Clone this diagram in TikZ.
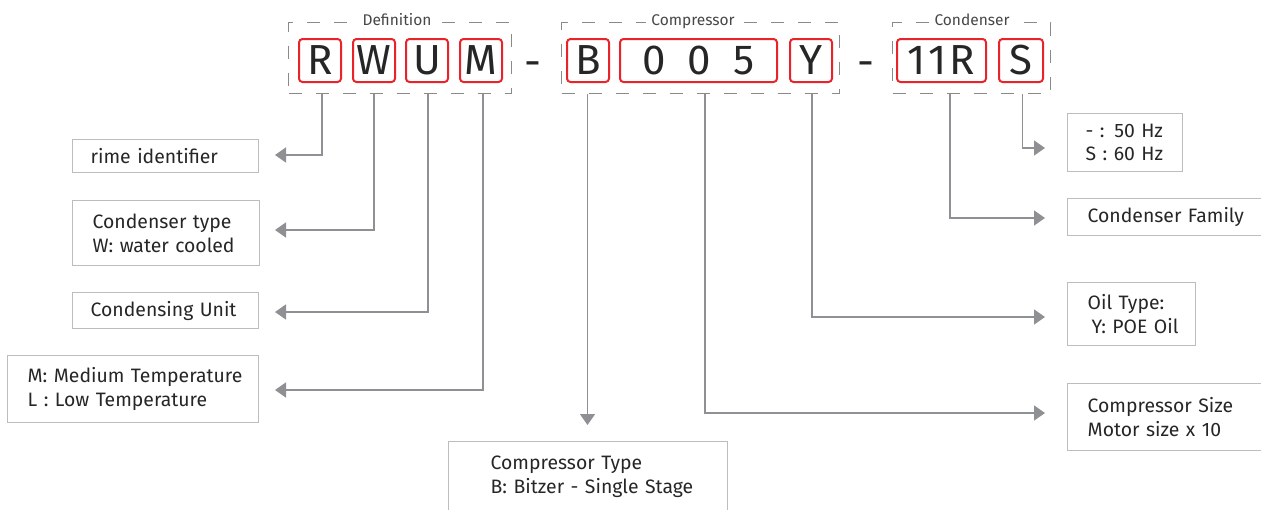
\documentclass[tikz,border=0pt]{standalone}
\usepackage{fontspec}
\setmainfont{Fira Sans}
\usetikzlibrary{arrows.meta,calc}
\definecolor{codered}{HTML}{E8232A}
\definecolor{conngray}{HTML}{8E9094}
\definecolor{boxgray}{HTML}{BDBDBD}
\definecolor{txt}{HTML}{262626}
\definecolor{dashgray}{HTML}{8A8A8A}
\hbadness=10000 \hfuzz=400pt
\begin{document}
\begin{tikzpicture}[x=1pt,y=-1pt,
  code/.style={draw=codered, line width=2pt, rounded corners=3.5pt, inner sep=0pt, text=txt,
    font=\fontsize{42}{42}\selectfont},
  bigdash/.style={anchor=base, inner sep=0pt, text=txt, font=\fontsize{42}{42}\selectfont},
  group/.style={draw=dashgray, line width=1.3pt, dash pattern=on 13pt off 14pt, anchor=north west, inner sep=0pt},
  glabel/.style={fill=white, anchor=base, inner xsep=5pt, inner ysep=2pt, text=txt!85, font=\fontsize{15.5}{15.5}\selectfont},
  info/.style={draw=boxgray, line width=1.3pt, anchor=north west, align=left, inner ysep=0pt, text=txt,
    font=\fontsize{19.4}{23.5}\selectfont},
  conn/.style={draw=conngray, line width=1.6pt, -{Triangle[length=11pt,width=15pt]}},
]
\useasboundingbox (0,0) rectangle (1261,509);

% dashed groups
\node[group, minimum width=223pt, minimum height=71pt] (def) at (288,22) {};
\node[group, minimum width=278pt, minimum height=71pt] (comp) at (561,22) {};
\node[group, minimum width=158pt, minimum height=71pt] (cond) at (892,22) {};
\node[glabel] (ldef) at (397,25.5) {Definition};
\node[glabel] (lcomp) at (693,25.5) {Compressor};
\node[glabel] (lcond) at (972,25.5) {Condenser};

% code letters
\node[code, minimum width=42pt, minimum height=43pt] (R) at (320,60.5) {R};
\node[code, minimum width=42pt, minimum height=43pt] (W) at (374,60.5) {W};
\node[code, minimum width=42pt, minimum height=43pt] (U) at (427,60.5) {U};
\node[code, minimum width=42pt, minimum height=43pt] (M) at (481,60.5) {M};
\node[bigdash] (d1) at (533,76) {-};
\node[code, minimum width=42pt, minimum height=43pt] (B) at (588,60.5) {B};
\node[code, minimum width=157pt, minimum height=43pt] (c005) at (698.5,60.5) {0\hskip 22pt 0\hskip 22pt 5};
\node[code, minimum width=42pt, minimum height=43pt] (Y) at (811,60.5) {Y};
\node[bigdash] (d2) at (866,76) {-};
\node[code, minimum width=89pt, minimum height=43pt] (c11r) at (941.5,60.5) {1\kern3pt 1\kern3pt R};
\node[code, minimum width=44pt, minimum height=43pt] (S) at (1021,60.5) {S};

% info boxes
\node[info, inner xsep=18pt, minimum width=186pt, minimum height=33pt, text width=150pt] (rime) at (72,139) {\mbox{rime identifier}};
\node[info, inner xsep=20pt, minimum width=187pt, minimum height=65pt, text width=147pt] (ctype) at (72,200) {\mbox{Condenser type}\\\mbox{W: water cooled}};
\node[info, inner xsep=18pt, minimum width=186pt, minimum height=36pt, text width=150pt] (cunit) at (72,292) {\mbox{Condensing Unit}};
\node[info, inner xsep=20pt, minimum width=251pt, minimum height=67pt, text width=211pt] (mtemp) at (7,355) {\mbox{M: Medium Temperature}\\\mbox{L : Low Temperature}};
\node[info, inner xsep=42pt, minimum width=279pt, minimum height=70pt, text width=195pt] (comptype) at (448,441) {\mbox{Compressor Type}\\\mbox{B: Bitzer - Single Stage}};
\node[info, inner xsep=18pt, minimum width=115pt, minimum height=58pt, text width=79pt] (hz) at (1067,113) {\mbox{- : 50 Hz}\\\mbox{S : 60 Hz}};
\node[info, inner xsep=20pt, minimum width=220pt, minimum height=37pt, text width=180pt] (cfam) at (1067,198) {\mbox{Condenser Family}};
\node[info, inner xsep=20pt, minimum width=128pt, minimum height=63pt, text width=88pt] (oil) at (1067,282) {\mbox{Oil Type:}\\\mbox{\hspace*{4pt}Y: POE Oil}};
\node[info, inner xsep=20pt, minimum width=220pt, minimum height=67pt, text width=180pt] (csize) at (1067,383) {\mbox{Compressor Size}\\\mbox{Motor size x 10}};

% arrow end points
\coordinate (tR) at (275,155);
\coordinate (tW) at (275,230);
\coordinate (tU) at (275,312);
\coordinate (tM) at (275,390);
\coordinate (tB) at (587.5,425);
\coordinate (t005) at (1045,413);
\coordinate (tY) at (1045,317);
\coordinate (t11R) at (1045,218);
\coordinate (tS) at (1045,148);

% connectors
\draw[conn] ([xshift=2pt]R.south |- def.south) |- (tR);
\draw[conn] (W.south |- def.south) |- (tW);
\draw[conn] ([xshift=1pt]U.south |- def.south) |- (tU);
\draw[conn] ([xshift=2pt]M.south |- def.south) |- (tM);
\draw[conn] (tB |- comp.south) -- (tB);
\draw[conn] ([xshift=6.5pt]c005.south |- comp.south) |- (t005);
\draw[conn] ([xshift=1pt]Y.south |- comp.south) |- (tY);
\draw[conn] ([xshift=8.5pt]c11r.south |- cond.south) |- (t11R);
\draw[conn] ([xshift=1.5pt]S.south |- cond.south) |- (tS);
\end{tikzpicture}
\end{document}
